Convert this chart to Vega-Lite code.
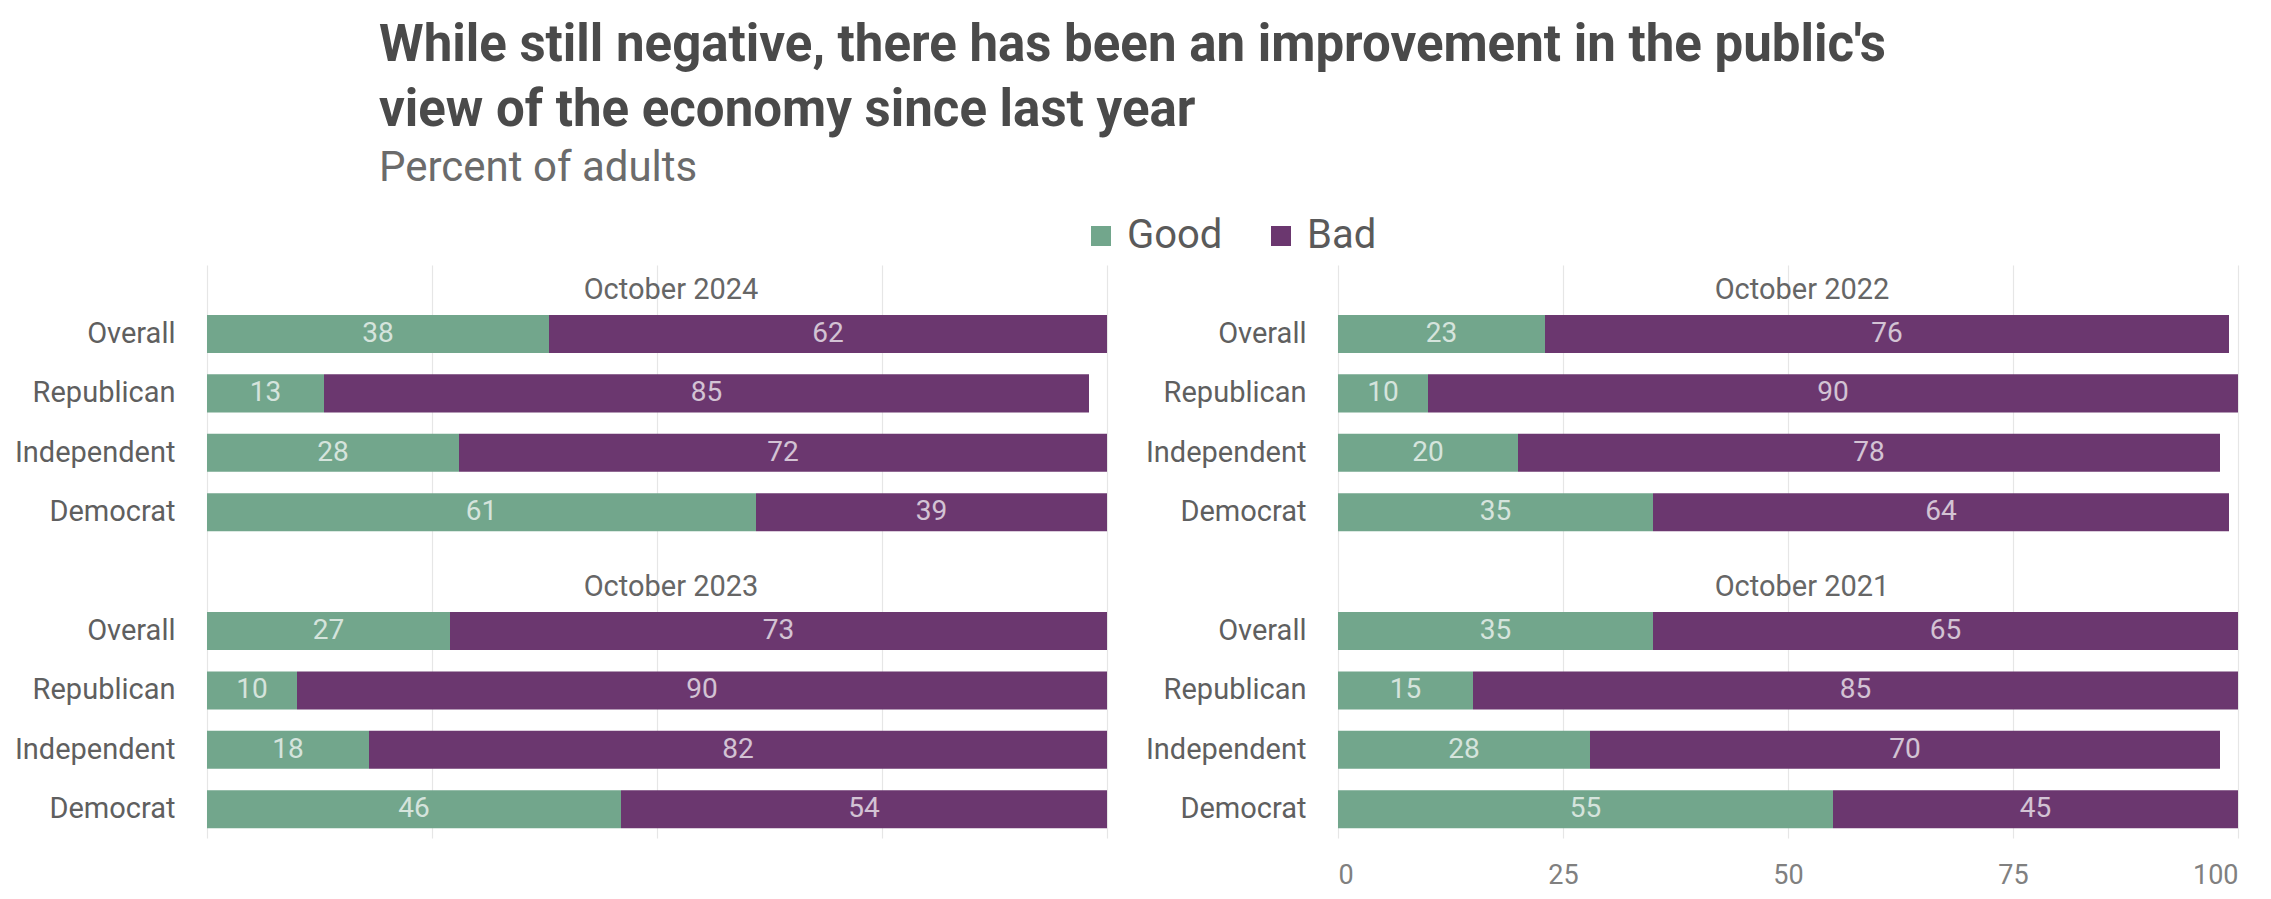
{
  "$schema": "https://vega.github.io/schema/vega-lite/v6.json",
  "background": "white",
  "padding": {"left": 14, "top": 20, "right": 5, "bottom": 5},
  "title": {
    "text": ["While still negative, there has been an improvement in the public's", "view of the economy since last year"],
    "subtitle": "Percent of adults",
    "anchor": "start",
    "frame": "group",
    "dx": 172,
    "offset": 26,
    "font": "Roboto",
    "fontSize": 51,
    "fontWeight": "bold",
    "color": "#4a4a4a",
    "lineHeight": 65,
    "subtitleFont": "Roboto",
    "subtitleFontSize": 42,
    "subtitleColor": "#6b6b6b",
    "subtitlePadding": 11
  },
  "datasets": {
    "bars": [
      {"col": "L", "slot": "1|Overall", "response": "Good", "value": 38},
      {"col": "L", "slot": "1|Overall", "response": "Bad", "value": 62},
      {"col": "L", "slot": "1|Republican", "response": "Good", "value": 13},
      {"col": "L", "slot": "1|Republican", "response": "Bad", "value": 85},
      {"col": "L", "slot": "1|Independent", "response": "Good", "value": 28},
      {"col": "L", "slot": "1|Independent", "response": "Bad", "value": 72},
      {"col": "L", "slot": "1|Democrat", "response": "Good", "value": 61},
      {"col": "L", "slot": "1|Democrat", "response": "Bad", "value": 39},
      {"col": "L", "slot": "2|Overall", "response": "Good", "value": 27},
      {"col": "L", "slot": "2|Overall", "response": "Bad", "value": 73},
      {"col": "L", "slot": "2|Republican", "response": "Good", "value": 10},
      {"col": "L", "slot": "2|Republican", "response": "Bad", "value": 90},
      {"col": "L", "slot": "2|Independent", "response": "Good", "value": 18},
      {"col": "L", "slot": "2|Independent", "response": "Bad", "value": 82},
      {"col": "L", "slot": "2|Democrat", "response": "Good", "value": 46},
      {"col": "L", "slot": "2|Democrat", "response": "Bad", "value": 54},
      {"col": "R", "slot": "1|Overall", "response": "Good", "value": 23},
      {"col": "R", "slot": "1|Overall", "response": "Bad", "value": 76},
      {"col": "R", "slot": "1|Republican", "response": "Good", "value": 10},
      {"col": "R", "slot": "1|Republican", "response": "Bad", "value": 90},
      {"col": "R", "slot": "1|Independent", "response": "Good", "value": 20},
      {"col": "R", "slot": "1|Independent", "response": "Bad", "value": 78},
      {"col": "R", "slot": "1|Democrat", "response": "Good", "value": 35},
      {"col": "R", "slot": "1|Democrat", "response": "Bad", "value": 64},
      {"col": "R", "slot": "2|Overall", "response": "Good", "value": 35},
      {"col": "R", "slot": "2|Overall", "response": "Bad", "value": 65},
      {"col": "R", "slot": "2|Republican", "response": "Good", "value": 15},
      {"col": "R", "slot": "2|Republican", "response": "Bad", "value": 85},
      {"col": "R", "slot": "2|Independent", "response": "Good", "value": 28},
      {"col": "R", "slot": "2|Independent", "response": "Bad", "value": 70},
      {"col": "R", "slot": "2|Democrat", "response": "Good", "value": 55},
      {"col": "R", "slot": "2|Democrat", "response": "Bad", "value": 45}
    ],
    "heads": [
      {"col": "L", "slot": "1|Overall", "title": "October 2024"},
      {"col": "L", "slot": "2|Overall", "title": "October 2023"},
      {"col": "R", "slot": "1|Overall", "title": "October 2022"},
      {"col": "R", "slot": "2|Overall", "title": "October 2021"}
    ]
  },
  "spacing": 38,
  "hconcat": [
    {
      "width": 900,
      "height": 573,
      "layer": [
        {
          "data": {"name": "bars"},
          "transform": [
            {"filter": "datum.col === 'L'"},
            {"stack": "value", "groupby": ["slot"], "sort": [{"field": "response", "order": "descending"}], "as": ["v0", "v1"]}
          ],
          "layer": [
            {
              "mark": {"type": "bar"},
              "encoding": {
                "y": {"field": "slot", "type": "nominal", "title": null,
                  "scale": {"domain": ["1|Overall", "1|Republican", "1|Independent", "1|Democrat", "1|", "2|Overall", "2|Republican", "2|Independent", "2|Democrat"], "paddingInner": 0.36, "paddingOuter": 0.503, "align": 0.836},
                  "axis": {"labelExpr": "split(datum.label, '|')[1]", "domain": false, "ticks": false, "labelPadding": 32, "labelFontSize": 29, "labelColor": "#5f5f5f", "labelFont": "Roboto"}},
                "x": {"field": "v0", "type": "quantitative", "title": null,
                  "scale": {"domain": [0, 100], "nice": false},
                  "axis": {"values": [0, 25, 50, 75, 100], "labels": false, "ticks": false, "domain": false, "grid": true, "gridColor": "#e6e6e6", "gridWidth": 1.2}},
                "x2": {"field": "v1"},
                "color": {"field": "response", "type": "nominal",
                  "scale": {"domain": ["Good", "Bad"], "range": ["#72a68c", "#6b376f"]},
                  "legend": {"orient": "none", "legendX": 874, "legendY": -49, "direction": "horizontal", "title": null, "symbolType": "square", "symbolSize": 400, "symbolStrokeWidth": 0, "labelFontSize": 40, "labelColor": "#5a5a5a", "labelFont": "Roboto", "columnPadding": 38, "labelOffset": 6}}
              }
            },
            {
              "transform": [{"calculate": "(datum.v0 + datum.v1) / 2", "as": "mid"}],
              "mark": {"type": "text", "fill": "white", "opacity": 0.7, "fontSize": 28, "font": "Roboto"},
              "encoding": {
                "y": {"field": "slot", "type": "nominal"},
                "x": {"field": "mid", "type": "quantitative"},
                "text": {"field": "value", "type": "quantitative"}
              }
            }
          ]
        },
        {
          "data": {"name": "heads"},
          "transform": [{"filter": "datum.col === 'L'"}],
          "mark": {"type": "text", "fontSize": 29, "fill": "#666666", "font": "Roboto", "dy": -44, "dx": 14},
          "encoding": {
            "y": {"field": "slot", "type": "nominal"},
            "x": {"datum": 50, "type": "quantitative"},
            "text": {"field": "title"}
          }
        }
      ]
    },
    {
      "width": 900,
      "height": 573,
      "layer": [
        {
          "data": {"name": "bars"},
          "transform": [
            {"filter": "datum.col === 'R'"},
            {"stack": "value", "groupby": ["slot"], "sort": [{"field": "response", "order": "descending"}], "as": ["v0", "v1"]}
          ],
          "layer": [
            {
              "mark": {"type": "bar"},
              "encoding": {
                "y": {"field": "slot", "type": "nominal", "title": null,
                  "scale": {"domain": ["1|Overall", "1|Republican", "1|Independent", "1|Democrat", "1|", "2|Overall", "2|Republican", "2|Independent", "2|Democrat"], "paddingInner": 0.36, "paddingOuter": 0.503, "align": 0.836},
                  "axis": {"labelExpr": "split(datum.label, '|')[1]", "domain": false, "ticks": false, "labelPadding": 32, "labelFontSize": 29, "labelColor": "#5f5f5f", "labelFont": "Roboto"}},
                "x": {"field": "v0", "type": "quantitative", "title": null,
                  "scale": {"domain": [0, 100], "nice": false},
                  "axis": {"values": [0, 25, 50, 75, 100], "labels": true, "labelFontSize": 27, "labelColor": "#808080", "labelFont": "Roboto", "labelPadding": 24, "ticks": false, "domain": false, "grid": true, "gridColor": "#e6e6e6", "gridWidth": 1.2}},
                "x2": {"field": "v1"},
                "color": {"field": "response", "type": "nominal",
                  "scale": {"domain": ["Good", "Bad"], "range": ["#72a68c", "#6b376f"]},
                  "legend": {"orient": "none", "legendX": 874, "legendY": -49, "direction": "horizontal", "title": null, "symbolType": "square", "symbolSize": 400, "symbolStrokeWidth": 0, "labelFontSize": 40, "labelColor": "#5a5a5a", "labelFont": "Roboto", "columnPadding": 38, "labelOffset": 6}}
              }
            },
            {
              "transform": [{"calculate": "(datum.v0 + datum.v1) / 2", "as": "mid"}],
              "mark": {"type": "text", "fill": "white", "opacity": 0.7, "fontSize": 28, "font": "Roboto"},
              "encoding": {
                "y": {"field": "slot", "type": "nominal"},
                "x": {"field": "mid", "type": "quantitative"},
                "text": {"field": "value", "type": "quantitative"}
              }
            }
          ]
        },
        {
          "data": {"name": "heads"},
          "transform": [{"filter": "datum.col === 'R'"}],
          "mark": {"type": "text", "fontSize": 29, "fill": "#666666", "font": "Roboto", "dy": -44, "dx": 14},
          "encoding": {
            "y": {"field": "slot", "type": "nominal"},
            "x": {"datum": 50, "type": "quantitative"},
            "text": {"field": "title"}
          }
        }
      ]
    }
  ],
  "config": {
    "font": "Roboto",
    "view": {"stroke": null}
  }
}
